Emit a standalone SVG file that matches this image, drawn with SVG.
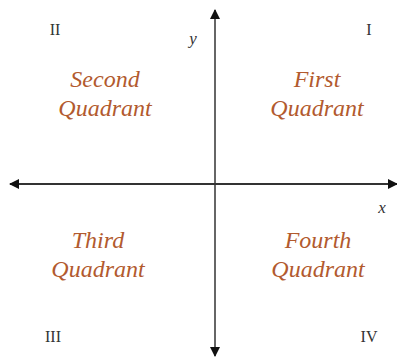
<svg xmlns="http://www.w3.org/2000/svg" width="397" height="358" viewBox="0 0 397 358">
<style>
.q{font-family:"Liberation Serif",serif;font-style:italic;font-size:24px;fill:#B25A2E;text-anchor:middle}
.r{font-family:"Liberation Serif",serif;font-size:16px;fill:#333;text-anchor:middle}
.v{font-family:"Liberation Serif",serif;font-style:italic;font-size:17px;fill:#333;text-anchor:middle}
</style>
<defs>
<marker id="ah" viewBox="0 0 10 10" refX="9" refY="5" markerWidth="10" markerHeight="10" markerUnits="userSpaceOnUse" orient="auto">
<path d="M0,0 L10,5 L0,10 z" fill="#111"/>
</marker>
</defs>
<rect width="397" height="358" fill="#fff"/>
<g id="connectors">
<line x1="215" y1="348" x2="215" y2="10" stroke="#666" stroke-width="2" marker-end="url(#ah)"/>
<line x1="215" y1="20" x2="215" y2="356" stroke="#666" stroke-width="2" marker-end="url(#ah)"/>
<line x1="388" y1="184" x2="10" y2="184" stroke="#333" stroke-width="2" marker-end="url(#ah)"/>
<line x1="20" y1="184" x2="397" y2="184" stroke="#333" stroke-width="2" marker-end="url(#ah)"/>
</g>
<g id="labels">
<text class="r" x="55" y="35">II</text>
<text class="r" x="369" y="35">I</text>
<text class="r" x="53" y="342">III</text>
<text class="r" x="369" y="342">IV</text>
<text class="v" x="193" y="44">y</text>
<text class="v" x="382" y="213">x</text>
</g>
<g id="q2"><text class="q" x="105" y="87">Second</text><text class="q" x="105" y="116">Quadrant</text></g>
<g id="q1"><text class="q" x="317" y="87">First</text><text class="q" x="317" y="116">Quadrant</text></g>
<g id="q3"><text class="q" x="98" y="248">Third</text><text class="q" x="98" y="277">Quadrant</text></g>
<g id="q4"><text class="q" x="318" y="248">Fourth</text><text class="q" x="318" y="277">Quadrant</text></g>
</svg>
